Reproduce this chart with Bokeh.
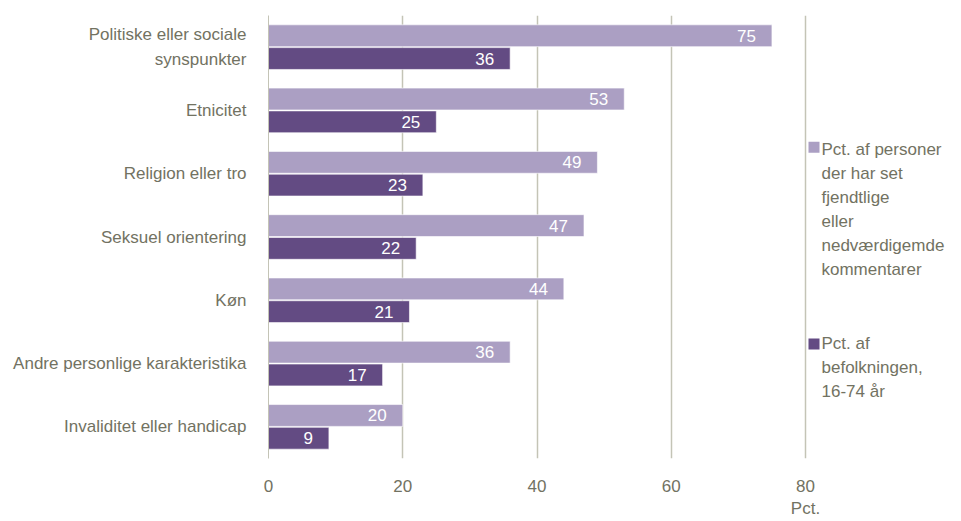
from bokeh.plotting import figure
from bokeh.models import Range1d, FactorRange, FixedTicker, Label, ColumnDataSource
from bokeh.transform import dodge
from bokeh.core.properties import value
from bokeh.embed import file_html
from bokeh.resources import INLINE

categories = [
    "Politiske eller sociale\nsynspunkter",
    "Etnicitet",
    "Religion eller tro",
    "Seksuel orientering",
    "Køn",
    "Andre personlige karakteristika",
    "Invaliditet eller handicap",
]
seen_pct = [75, 53, 49, 47, 44, 36, 20]
population_pct = [36, 25, 23, 22, 21, 17, 9]
series_names = [
    "Pct. af personer\nder har set\nfjendtlige\neller\nnedværdigemde\nkommentarer",
    "Pct. af\nbefolkningen,\n16-74 år",
]
x_ticks = [0, 20, 40, 60, 80]
x_unit = "Pct."

FONT = "'Liberation Sans', Arial, sans-serif"
FS = "17px"
TEXT = "#727262"
LIGHT = "#AB9FC3"
DARK = "#634B83"
GRID = "#C4C4B6"
LH = 1.27

src = ColumnDataSource(dict(
    cat=categories,
    seen=seen_pct,
    pop=population_pct,
    seen_lbl=[str(v) for v in seen_pct],
    pop_lbl=[str(v) for v in population_pct],
))

px_per_unit = (805 - 268) / 80.0
x_end = (961 - 268) / px_per_unit

p = figure(
    width=961, height=521,
    y_range=FactorRange(factors=list(reversed(categories))),
    x_range=Range1d(0, x_end),
    output_backend="svg", toolbar_location=None,
    min_border_left=268, min_border_right=0,
    min_border_top=15, min_border_bottom=59,
)
p.outline_line_color = None
p.background_fill_color = "white"
p.border_fill_color = "white"

off = 0.18
bh = 0.345
p.hbar(y=dodge("cat", off, range=p.y_range), right="seen", left=0, height=bh,
       source=src, fill_color=LIGHT, line_color="white", line_alpha=0.6, line_width=1)
p.hbar(y=dodge("cat", -off, range=p.y_range), right="pop", left=0, height=bh,
       source=src, fill_color=DARK, line_color="white", line_alpha=0.6, line_width=1)

p.text(x="seen", y=dodge("cat", off, range=p.y_range), text="seen_lbl", source=src,
       x_offset=-16, text_align="right", text_baseline="middle",
       text_color="white", text_font=value(FONT), text_font_size=FS)
p.text(x="pop", y=dodge("cat", -off, range=p.y_range), text="pop_lbl", source=src,
       x_offset=-16, text_align="right", text_baseline="middle",
       text_color="white", text_font=value(FONT), text_font_size=FS)

# axes
p.xaxis.ticker = FixedTicker(ticks=x_ticks)
p.xaxis.major_label_overrides = {x_ticks[-1]: f"{x_ticks[-1]}\n{x_unit}"}
p.xaxis.axis_line_color = None
p.xaxis.major_tick_line_color = None
p.xaxis.minor_tick_line_color = None
p.xaxis.major_label_standoff = 12
p.xaxis.major_label_text_font = FONT
p.xaxis.major_label_text_font_size = FS
p.xaxis.major_label_text_color = TEXT
p.xaxis.major_label_text_line_height = 1.2

p.yaxis.axis_line_color = GRID
p.yaxis.axis_line_width = 1
p.yaxis.major_tick_line_color = None
p.yaxis.minor_tick_line_color = None
p.yaxis.major_label_standoff = 16
p.yaxis.major_label_text_font = FONT
p.yaxis.major_label_text_font_size = FS
p.yaxis.major_label_text_color = TEXT
p.yaxis.major_label_text_line_height = 1.3

p.ygrid.grid_line_color = None
p.xgrid.grid_line_color = GRID
p.xgrid.grid_line_width = 1.5

# legend
sq_x = (813.5 - 268) / px_per_unit
tx_x = (821 - 268) / px_per_unit
leg_sq_y = [4.917, 1.809]
leg_tx_y = [5.035, 1.965]
p.scatter(x=[sq_x, sq_x], y=leg_sq_y, marker="square", size=11,
          fill_color=[LIGHT, DARK], line_color=None)
for name, ty in zip(series_names, leg_tx_y):
    p.add_layout(Label(x=tx_x, y=ty, text=name, text_align="left",
                       text_baseline="top", text_font=FONT, text_font_size=FS,
                       text_color=TEXT, text_line_height=LH))

open("out.html", "w").write(file_html(p, INLINE))
